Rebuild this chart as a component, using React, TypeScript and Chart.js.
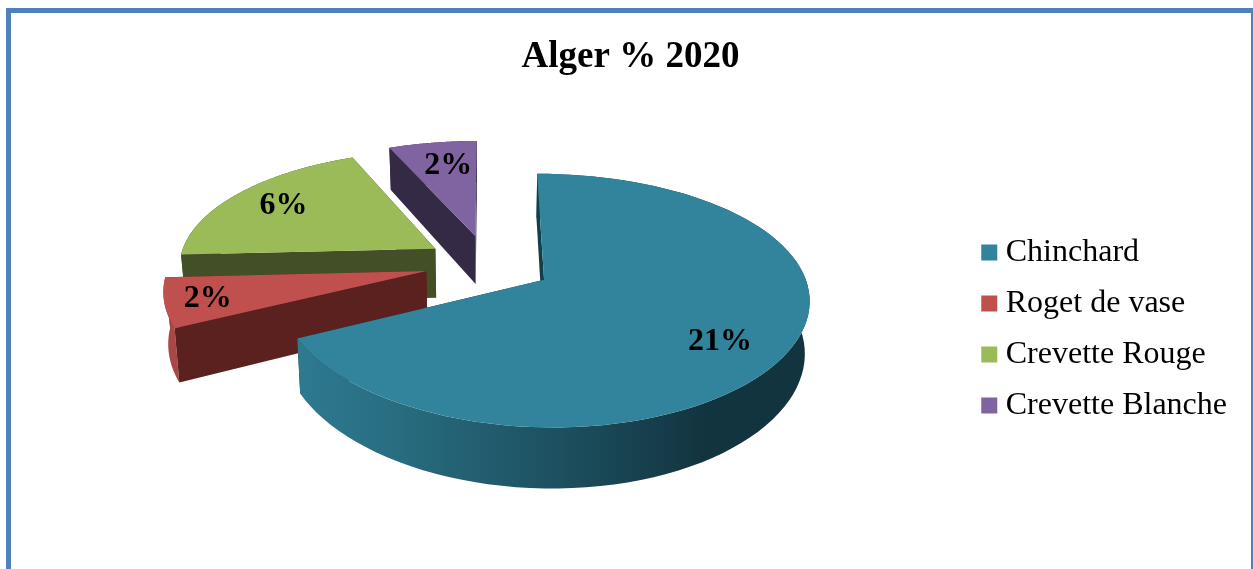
import React, { useEffect, useRef } from "react";
import { Chart, registerables } from "chart.js";

Chart.register(...registerables);

const titleText = "Alger % 2020";
const categories = ["Chinchard", "Roget de vase", "Crevette Rouge", "Crevette Blanche"];
const values = [21, 2, 6, 2];
const explosion = [65, 63, 63, 64];
const topColors = ["#31849B", "#C0504D", "#9BBB59", "#8064A2"];
const startWallColors = ["#123F4C", "#5A211F", "#434F26", "#352A45"];
const endWallColors = ["#123F4C", "#5A211F", "#434F26", "#352A45"];
const rimStops: [number, string][][] = [
  [[0, "#2E7A90"], [0.2, "#286C80"], [0.5, "#1D5161"], [0.8, "#12343F"], [1, "#12343F"]],
  [[0, "#A84744"], [1, "#A84744"]],
  [[0, "#434F26"], [1, "#434F26"]],
  [[0, "#352A45"], [1, "#352A45"]],
];
const labelFractions = [0.77, 0.84, 0.76, 0.72];
const labelTurns = [0.09, -0.015, 0, 0.03];

const FONT = '"Liberation Serif"';
const view = { shiftX: -9, shiftY: -105, squash: 0.46, kx: 0.137, ky: 0.16, depth: 50, taper: 0.015 };

function projector(arc: any) {
  const cx = arc.x + view.shiftX;
  const cy = arc.y + view.shiftY;
  const R = arc.outerRadius;
  const mid = (arc.startAngle + arc.endAngle) / 2;
  const ox = (arc.options.offset / R) * Math.cos(mid);
  const oy = (arc.options.offset / R) * Math.sin(mid);
  return (a: number, frac: number, h: number) => {
    const X = ox + frac * Math.cos(a);
    const Y = oy + frac * Math.sin(a);
    const sx = R * X / (1 - view.kx * Y);
    const s = 1 / (1 - view.ky * Y);
    return {
      x: cx + sx * (1 - view.taper * h),
      y: cy + R * view.squash * Y * s + view.depth * s * h,
    };
  };
}

function polygon(ctx: CanvasRenderingContext2D, pts: { x: number; y: number }[], fill: string | CanvasGradient) {
  ctx.beginPath();
  pts.forEach((p, i) => (i ? ctx.lineTo(p.x, p.y) : ctx.moveTo(p.x, p.y)));
  ctx.closePath();
  ctx.fillStyle = fill;
  ctx.fill();
}

const pie3d = {
  id: "pie3d",
  beforeDatasetsDraw(chart: any) {
    const ctx: CanvasRenderingContext2D = chart.ctx;
    const arcs = chart.getDatasetMeta(0).data;
    for (let i = arcs.length - 1; i >= 0; i--) {
      const arc = arcs[i];
      const p = projector(arc);
      const a0 = arc.startAngle;
      const a1 = arc.endAngle;
      const n = 90;
      const angles = Array.from({ length: n + 1 }, (_, k) => a0 + ((a1 - a0) * k) / n);
      const rimTop = angles.map((a) => p(a, 1, 0));
      const rimBottom = angles.map((a) => p(a, 1, 1));
      // far radial wall
      polygon(ctx, [p(a1, 0, 0), p(a1, 1, 0), p(a1, 1, 1), p(a1, 0, 1)], endWallColors[i]);
      // outer rim
      const xs = rimTop.map((q) => q.x);
      const g = ctx.createLinearGradient(Math.min(...xs), 0, Math.max(...xs), 0);
      rimStops[i].forEach(([o, c]) => g.addColorStop(o, c));
      polygon(ctx, [...rimTop, ...rimBottom.slice().reverse()], g);
      // near radial wall
      polygon(ctx, [p(a0, 0, 0), p(a0, 1, 0), p(a0, 1, 1), p(a0, 0, 1)], startWallColors[i]);
      // top face
      polygon(ctx, [p(a0, 0, 0), ...rimTop], topColors[i]);
    }
    // value labels
    ctx.save();
    ctx.font = `bold 32px ${FONT}`;
    ctx.fillStyle = "#000";
    ctx.textAlign = "center";
    ctx.textBaseline = "middle";
    arcs.forEach((arc: any, i: number) => {
      const q = projector(arc)((arc.startAngle + arc.endAngle) / 2 + labelTurns[i], labelFractions[i], 0);
      ctx.fillText(`${values[i]}%`, q.x, q.y);
    });
    ctx.restore();
    return false;
  },
};

export default function App() {
  const ref = useRef<HTMLCanvasElement>(null);
  useEffect(() => {
    const chart = new Chart(ref.current!, {
      type: "pie",
      data: {
        labels: categories,
        datasets: [
          {
            data: values,
            backgroundColor: topColors,
            borderWidth: 0,
            offset: explosion,
          },
        ],
      },
      options: {
        animation: false,
        responsive: false,
        radius: 257,
        layout: { padding: { left: 24, right: 16, top: 0, bottom: 0 } },
        plugins: {
          tooltip: { enabled: false },
          title: {
            display: true,
            text: titleText,
            color: "#000",
            font: { family: FONT, size: 37, weight: "bold" },
            padding: { top: 35, bottom: 0 },
          },
          legend: {
            position: "right",
            labels: {
              color: "#000",
              font: { family: FONT, size: 32 },
              padding: 19,
              usePointStyle: true,
              pointStyle: "rect",
              boxWidth: 1,
              boxHeight: 16,
            },
          },
        },
      } as any,
      plugins: [pie3d as any],
    });
    return () => chart.destroy();
  }, []);
  return (
    <div style={{ position: "fixed", left: 0, top: 0, width: 1253, height: 569, overflow: "hidden", background: "#fff" }}>
      <canvas ref={ref} width={1253} height={658} style={{ position: "absolute", left: 0, top: 0, width: 1253, height: 658 }} />
      <div
        style={{
          position: "absolute",
          left: 6,
          top: 8,
          width: 1250,
          height: 700,
          boxSizing: "border-box",
          border: "5px solid #4F81BD",
          pointerEvents: "none",
        }}
      />
    </div>
  );
}
